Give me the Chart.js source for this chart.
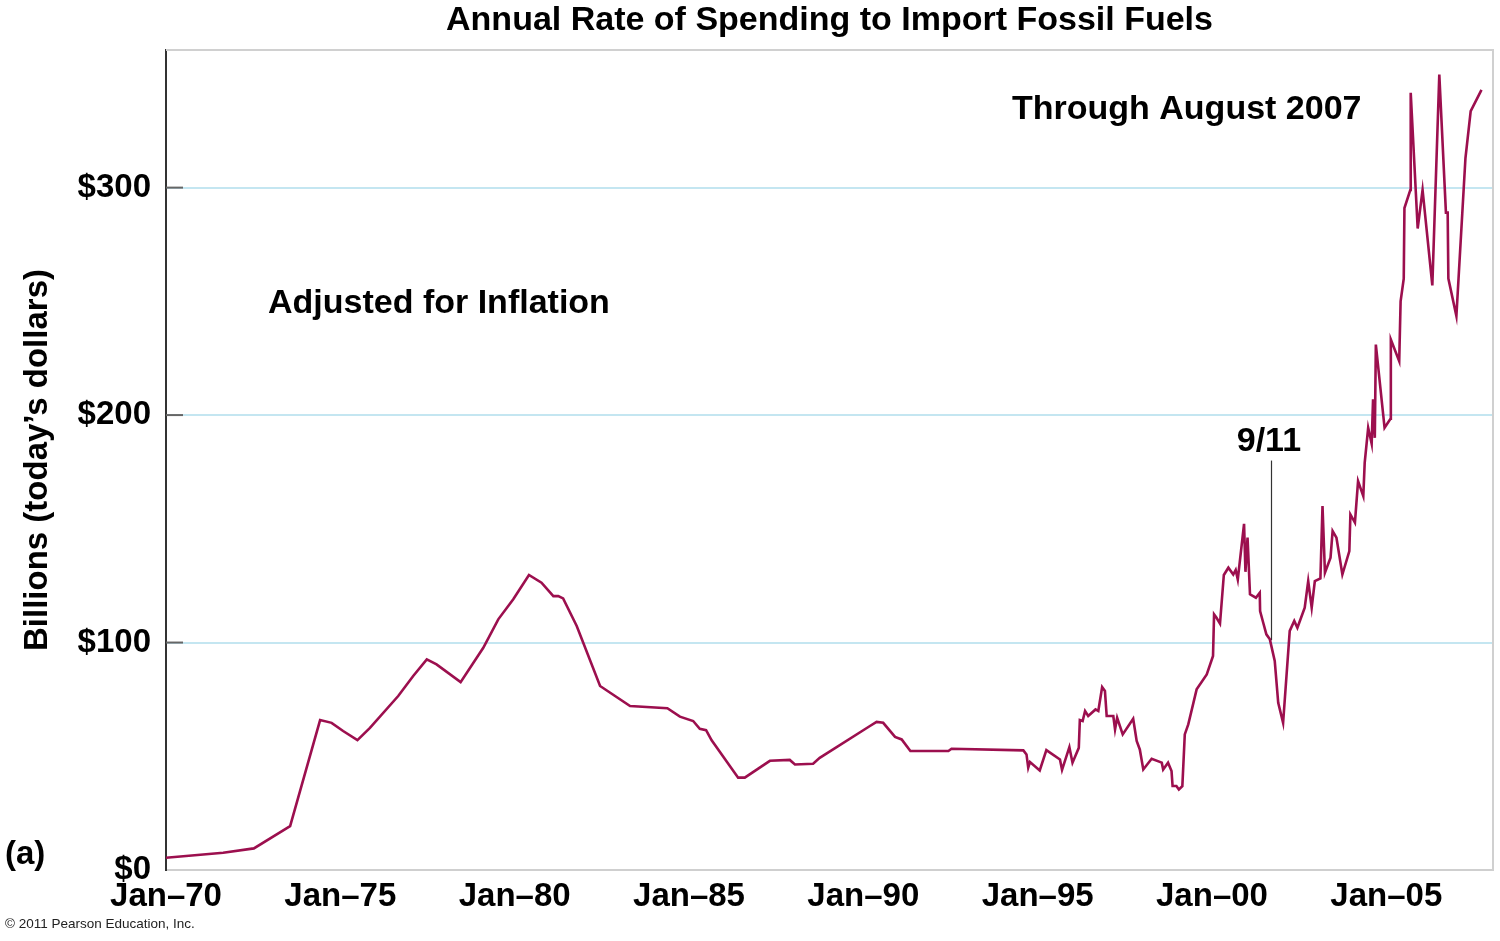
<!DOCTYPE html>
<html>
<head>
<meta charset="utf-8">
<script src="https://cdn.jsdelivr.net/npm/chart.js@4.4.1/dist/chart.umd.min.js"></script>
<style>
  html, body { margin: 0; padding: 0; background: #fff; }
  canvas { display: block; }
</style>
</head>
<body>
<canvas id="chart" width="1500" height="941"></canvas>
<script>
// data (decimal years, billions of today's dollars)
const years = [
  1970.00, 1971.64, 1972.52, 1973.56, 1974.42, 1974.75, 1975.08, 1975.49, 1975.85, 1976.66,
  1977.09, 1977.48, 1977.76, 1978.45, 1979.10, 1979.53, 1979.96, 1980.41, 1980.77, 1981.11,
  1981.25, 1981.39, 1981.78, 1982.45, 1983.31, 1984.38, 1984.74, 1985.12, 1985.31, 1985.49,
  1985.65, 1986.41, 1986.60, 1987.32, 1987.89, 1988.04, 1988.56, 1988.75, 1990.19, 1990.38,
  1990.57, 1990.91, 1991.10, 1991.35, 1992.44, 1992.53, 1994.59, 1994.68, 1994.73, 1994.78,
  1995.06, 1995.25, 1995.64, 1995.70, 1995.91, 1996.00, 1996.18, 1996.21, 1996.29, 1996.36,
  1996.45, 1996.66, 1996.74, 1996.85, 1996.93, 1996.98, 1997.17, 1997.22, 1997.28, 1997.44,
  1997.74, 1997.84, 1997.93, 1998.03, 1998.27, 1998.56, 1998.60, 1998.74, 1998.84, 1998.87,
  1998.98, 1999.05, 1999.15, 1999.22, 1999.32, 1999.56, 1999.85, 2000.03, 2000.06, 2000.13,
  2000.23, 2000.34, 2000.47, 2000.61, 2000.68, 2000.74, 2000.92, 2000.96, 2001.02, 2001.09,
  2001.26, 2001.37, 2001.38, 2001.47, 2001.56, 2001.66, 2001.80, 2001.90, 2002.04, 2002.23,
  2002.36, 2002.45, 2002.66, 2002.76, 2002.86, 2002.95, 2003.11, 2003.17, 2003.24, 2003.40,
  2003.46, 2003.57, 2003.74, 2003.94, 2003.97, 2004.10, 2004.19, 2004.34, 2004.38, 2004.48,
  2004.58, 2004.62, 2004.67, 2004.70, 2004.95, 2005.12, 2005.13, 2005.37, 2005.41, 2005.50,
  2005.52, 2005.69, 2005.70, 2005.90, 2006.04, 2006.32, 2006.52, 2006.71, 2006.76, 2006.78,
  2007.01, 2007.27, 2007.42, 2007.73
];
const spending = [
  5.4, 7.6, 9.5, 19.3, 65.9, 64.7, 61.1, 57.1, 62.5, 76.5,
  85.3, 92.6, 90.4, 82.6, 97.7, 110.2, 119, 129.7, 126.3, 120.4,
  120.4, 119.4, 107.3, 80.9, 72.1, 71.1, 67.4, 65.5, 62.1, 61.5,
  57, 40.6, 40.6, 48.0, 48.4, 46.4, 46.7, 49.3, 63.3, 65.1,
  64.7, 58.5, 57.4, 52.3, 52.3, 53.3, 52.6, 50.8, 45.0, 47.5,
  43.8, 52.7, 48.6, 44, 54, 47.2, 53.7, 65.9, 65.5, 69.9,
  67.7, 70.6, 69.9, 80.4, 78.7, 67.7, 67.7, 61.8, 66.9, 59.6,
  66.5, 56.7, 53, 44.2, 48.9, 47.2, 44.2, 47.2, 43.5, 36.9,
  36.9, 35.4, 36.9, 59.6, 64, 79.4, 86, 94.1, 112.4, 110.9,
  108.3, 129.7, 132.9, 129.9, 131.9, 127.7, 152.2, 131.1, 146.1, 121.2,
  119.7, 121.9, 113.8, 108.7, 103.6, 101.4, 91.9, 73.5, 64.7, 105.1,
  109.5, 106.5, 115.3, 127, 115.3, 127, 128.2, 160, 130.7, 137.3,
  149, 146.1, 129.9, 140.2, 156.3, 152.7, 171, 164.4, 179, 194.4,
  187.4, 206.9, 190, 231, 194.4, 198.4, 233.2, 223.7, 250, 260,
  291, 299, 341.7, 282, 299, 257, 349.7, 289, 289, 260,
  243.5, 313, 333.6, 343
];
const tickYears = [1970, 1975, 1980, 1985, 1990, 1995, 2000, 2005];
const tickLabels = ["Jan–70", "Jan–75", "Jan–80", "Jan–85", "Jan–90", "Jan–95", "Jan–00", "Jan–05"];
const yTickValues = [0, 100, 200, 300];
const yTickLabels = ["$0", "$100", "$200", "$300"];
const nineEleven = { year: 2001.69, from: 101, to: 180, label: "9/11" };

const FONT = "'Liberation Sans', Arial, Helvetica, sans-serif";
const LINE_COLOR = "#9c0f4e";

// title, borders, notes and small extras
const extras = {
  id: "extras",
  beforeDatasetsDraw(chart) {
    const ctx = chart.ctx;
    const xs = chart.scales.x, ys = chart.scales.y;
    const x = Math.round(xs.getPixelForValue(nineEleven.year)) + 0.5;
    ctx.save();
    ctx.strokeStyle = "#333";
    ctx.lineWidth = 1.2;
    ctx.beginPath();
    ctx.moveTo(x, ys.getPixelForValue(nineEleven.to));
    ctx.lineTo(x, ys.getPixelForValue(nineEleven.from));
    ctx.stroke();
    ctx.restore();
  },
  afterDraw(chart) {
    const ctx = chart.ctx;
    const a = chart.chartArea;
    const xs = chart.scales.x, ys = chart.scales.y;
    ctx.save();

    // light frame on top and right
    ctx.strokeStyle = "#d0d0d0";
    ctx.lineWidth = 2;
    ctx.beginPath();
    ctx.moveTo(a.left, a.top);
    ctx.lineTo(a.right, a.top);
    ctx.lineTo(a.right, a.bottom);
    ctx.stroke();

    // short inner ticks on the y axis
    ctx.strokeStyle = "#666";
    ctx.lineWidth = 2;
    yTickValues.slice(1).forEach((v) => {
      const y = ys.getPixelForValue(v);
      ctx.beginPath();
      ctx.moveTo(a.left, y);
      ctx.lineTo(a.left + 17, y);
      ctx.stroke();
    });

    ctx.fillStyle = "#000";
    ctx.textBaseline = "middle";

    // title
    ctx.font = "bold 34px " + FONT;
    ctx.textAlign = "center";
    ctx.fillText("Annual Rate of Spending to Import Fossil Fuels", (a.left + a.right) / 2, 21);

    // notes
    ctx.textAlign = "left";
    ctx.fillText("Through August 2007", 1012, 110);
    ctx.fillText("Adjusted for Inflation", 268, 304);
    ctx.textAlign = "center";
    ctx.fillText(nineEleven.label, xs.getPixelForValue(nineEleven.year) - 2, 442);

    // panel letter
    ctx.font = "bold 33px " + FONT;
    ctx.textAlign = "left";
    ctx.fillText("(a)", 5, 855);

    // copyright
    ctx.font = "13.5px " + FONT;
    ctx.fillStyle = "#222";
    ctx.fillText("© 2011 Pearson Education, Inc.", 5, 924);

    ctx.restore();
  }
};

new Chart(document.getElementById("chart"), {
  type: "line",
  data: {
    datasets: [
      {
        data: years.map((y, i) => ({ x: y, y: spending[i] })),
        borderColor: LINE_COLOR,
        borderWidth: 2.6,
        pointRadius: 0,
        tension: 0,
        fill: false,
      },
    ],
  },
  options: {
    responsive: false,
    animation: false,
    devicePixelRatio: 1,
    layout: { padding: { top: 50, right: 7, left: 0, bottom: 0 } },
    plugins: {
      legend: { display: false },
      tooltip: { enabled: false },
    },
    scales: {
      x: {
        type: "linear",
        min: 1970,
        max: 2008.06,
        afterBuildTicks: (s) => {
          s.ticks = tickYears.map((v) => ({ value: v }));
        },
        afterFit: (s) => {
          s.height = 71;
        },
        grid: { display: false, drawTicks: false },
        border: { display: true, color: "#cfcfcf", width: 2 },
        ticks: {
          padding: 7,
          maxRotation: 0,
          autoSkip: false,
          color: "#000",
          font: { family: FONT, size: 33, weight: "bold" },
          callback: (v) => tickLabels[tickYears.indexOf(v)],
        },
      },
      y: {
        min: 0,
        max: 360.5,
        afterBuildTicks: (s) => {
          s.ticks = yTickValues.map((v) => ({ value: v }));
        },
        afterFit: (s) => {
          s.width = 166;
        },
        grid: {
          drawTicks: false,
          lineWidth: 2,
          color: (c) => (c.tick && c.tick.value === 0 ? "rgba(0,0,0,0)" : "#c4e6f1"),
        },
        border: { display: true, color: "#333", width: 2 },
        title: {
          display: true,
          text: "Billions (today’s dollars)",
          color: "#000",
          padding: { top: 18, bottom: 0 },
          font: { family: FONT, size: 33, weight: "bold" },
        },
        ticks: {
          padding: 15,
          color: "#000",
          font: { family: FONT, size: 33, weight: "bold" },
          callback: (v) => yTickLabels[yTickValues.indexOf(v)],
        },
      },
    },
  },
  plugins: [extras],
});
</script>
</body>
</html>
